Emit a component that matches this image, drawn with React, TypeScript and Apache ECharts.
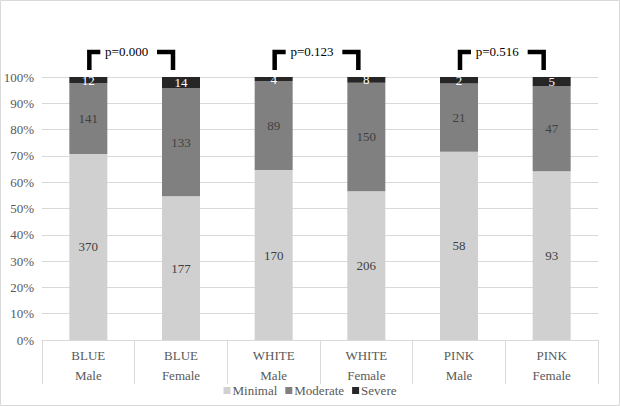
import React, { useEffect, useRef } from "react";
import * as echarts from "echarts";

const groups = ["BLUE", "BLUE", "WHITE", "WHITE", "PINK", "PINK"];
const sexes = ["Male", "Female", "Male", "Female", "Male", "Female"];
const minimal = [370, 177, 170, 206, 58, 93];
const moderate = [141, 133, 89, 150, 21, 47];
const severe = [12, 14, 4, 8, 2, 5];
const pValues = ["p=0.000", "p=0.123", "p=0.516"];
const yTicks = [0, 10, 20, 30, 40, 50, 60, 70, 80, 90, 100];

const FONT = "'Times New Roman', 'Liberation Serif', serif";

export default function App() {
  const ref = useRef<HTMLDivElement>(null);
  useEffect(() => {
    document.body.style.margin = "0";
    const chart = echarts.init(ref.current!, null, { renderer: "svg" });
    const categories = groups.map((g, i) => g + "\n" + sexes[i]);
    const totals = minimal.map((v, i) => v + moderate[i] + severe[i]);
    const pct = (arr: number[]) => arr.map((v, i) => ({ value: (v / totals[i]) * 100, count: v }));
    const mkSeries = (name: string, arr: number[], color: string, labelColor: string) => ({
      name,
      type: "bar",
      stack: "total",
      barWidth: 38,
      data: pct(arr),
      itemStyle: { color },
      label: {
        show: true,
        position: "inside",
        color: labelColor,
        fontFamily: FONT,
        fontSize: 13,
        formatter: (p: any) => String(p.data.count),
      },
    });
    chart.setOption({
      animation: false,
      textStyle: { fontFamily: FONT },
      grid: { left: 42, right: 22, top: 77, bottom: 66 },
      legend: {
        top: 384,
        left: "center",
        itemWidth: 7,
        itemHeight: 7,
        itemGap: 8,
        icon: "rect",
        padding: 0,
        textStyle: { color: "#595959", fontFamily: FONT, fontSize: 13, padding: [0, 0, 0, -3] },
        data: ["Minimal", "Moderate", "Severe"],
      },
      xAxis: {
        type: "category",
        data: categories,
        axisLine: { lineStyle: { color: "#d9d9d9" } },
        axisTick: { show: true, length: 44, interval: 0, lineStyle: { color: "#d9d9d9" } },
        axisLabel: {
          color: "#595959",
          fontFamily: FONT,
          fontSize: 13,
          lineHeight: 20,
          margin: 5,
          interval: 0,
        },
      },
      yAxis: {
        type: "value",
        min: 0,
        max: 100,
        interval: 10,
        axisLine: { show: false },
        axisTick: { show: false },
        splitLine: { lineStyle: { color: "#d9d9d9" } },
        axisLabel: {
          color: "#595959",
          fontFamily: FONT,
          fontSize: 13,
          margin: 8,
          formatter: (v: number) => (yTicks.includes(v) ? v + "%" : ""),
        },
      },
      series: [
        mkSeries("Minimal", minimal, "#d0d0d0", "#404040"),
        mkSeries("Moderate", moderate, "#808080", "#404040"),
        mkSeries("Severe", severe, "#262626", "#ffffff"),
      ],
    });

    const y100 = chart.convertToPixel({ yAxisIndex: 0 }, 100) as number;
    const top = y100 - 25;
    const bottom = y100 - 7;
    const elements: any[] = [
      {
        type: "rect",
        shape: { x: 0.5, y: 0.5, width: 619, height: 405 },
        style: { fill: "none", stroke: "#d9d9d9", lineWidth: 1 },
        silent: true,
      },
    ];
    pValues.forEach((p, k) => {
      const xL = chart.convertToPixel({ xAxisIndex: 0 }, categories[2 * k]) as number;
      const xR = chart.convertToPixel({ xAxisIndex: 0 }, categories[2 * k + 1]) as number;
      elements.push({
        type: "polyline",
        shape: { points: [[xL + 12, top], [xL + 1, top], [xL + 1, bottom]] },
        style: { stroke: "#000", lineWidth: 4.5, fill: "none", lineJoin: "miter", lineCap: "butt" },
      });
      elements.push({
        type: "polyline",
        shape: { points: [[xR - 24, top], [xR - 8, top], [xR - 8, bottom]] },
        style: { stroke: "#000", lineWidth: 4.5, fill: "none", lineJoin: "miter", lineCap: "butt" },
      });
      elements.push({
        type: "text",
        x: (xL + xR) / 2 - 8,
        y: top - 1,
        style: {
          text: p,
          fill: "#000",
          fontFamily: FONT,
          fontSize: 13,
          align: "center",
          verticalAlign: "middle",
        },
      });
    });
    chart.setOption({ graphic: { elements } });
    return () => chart.dispose();
  }, []);
  return <div ref={ref} style={{ width: 620, height: 406 }} />;
}
